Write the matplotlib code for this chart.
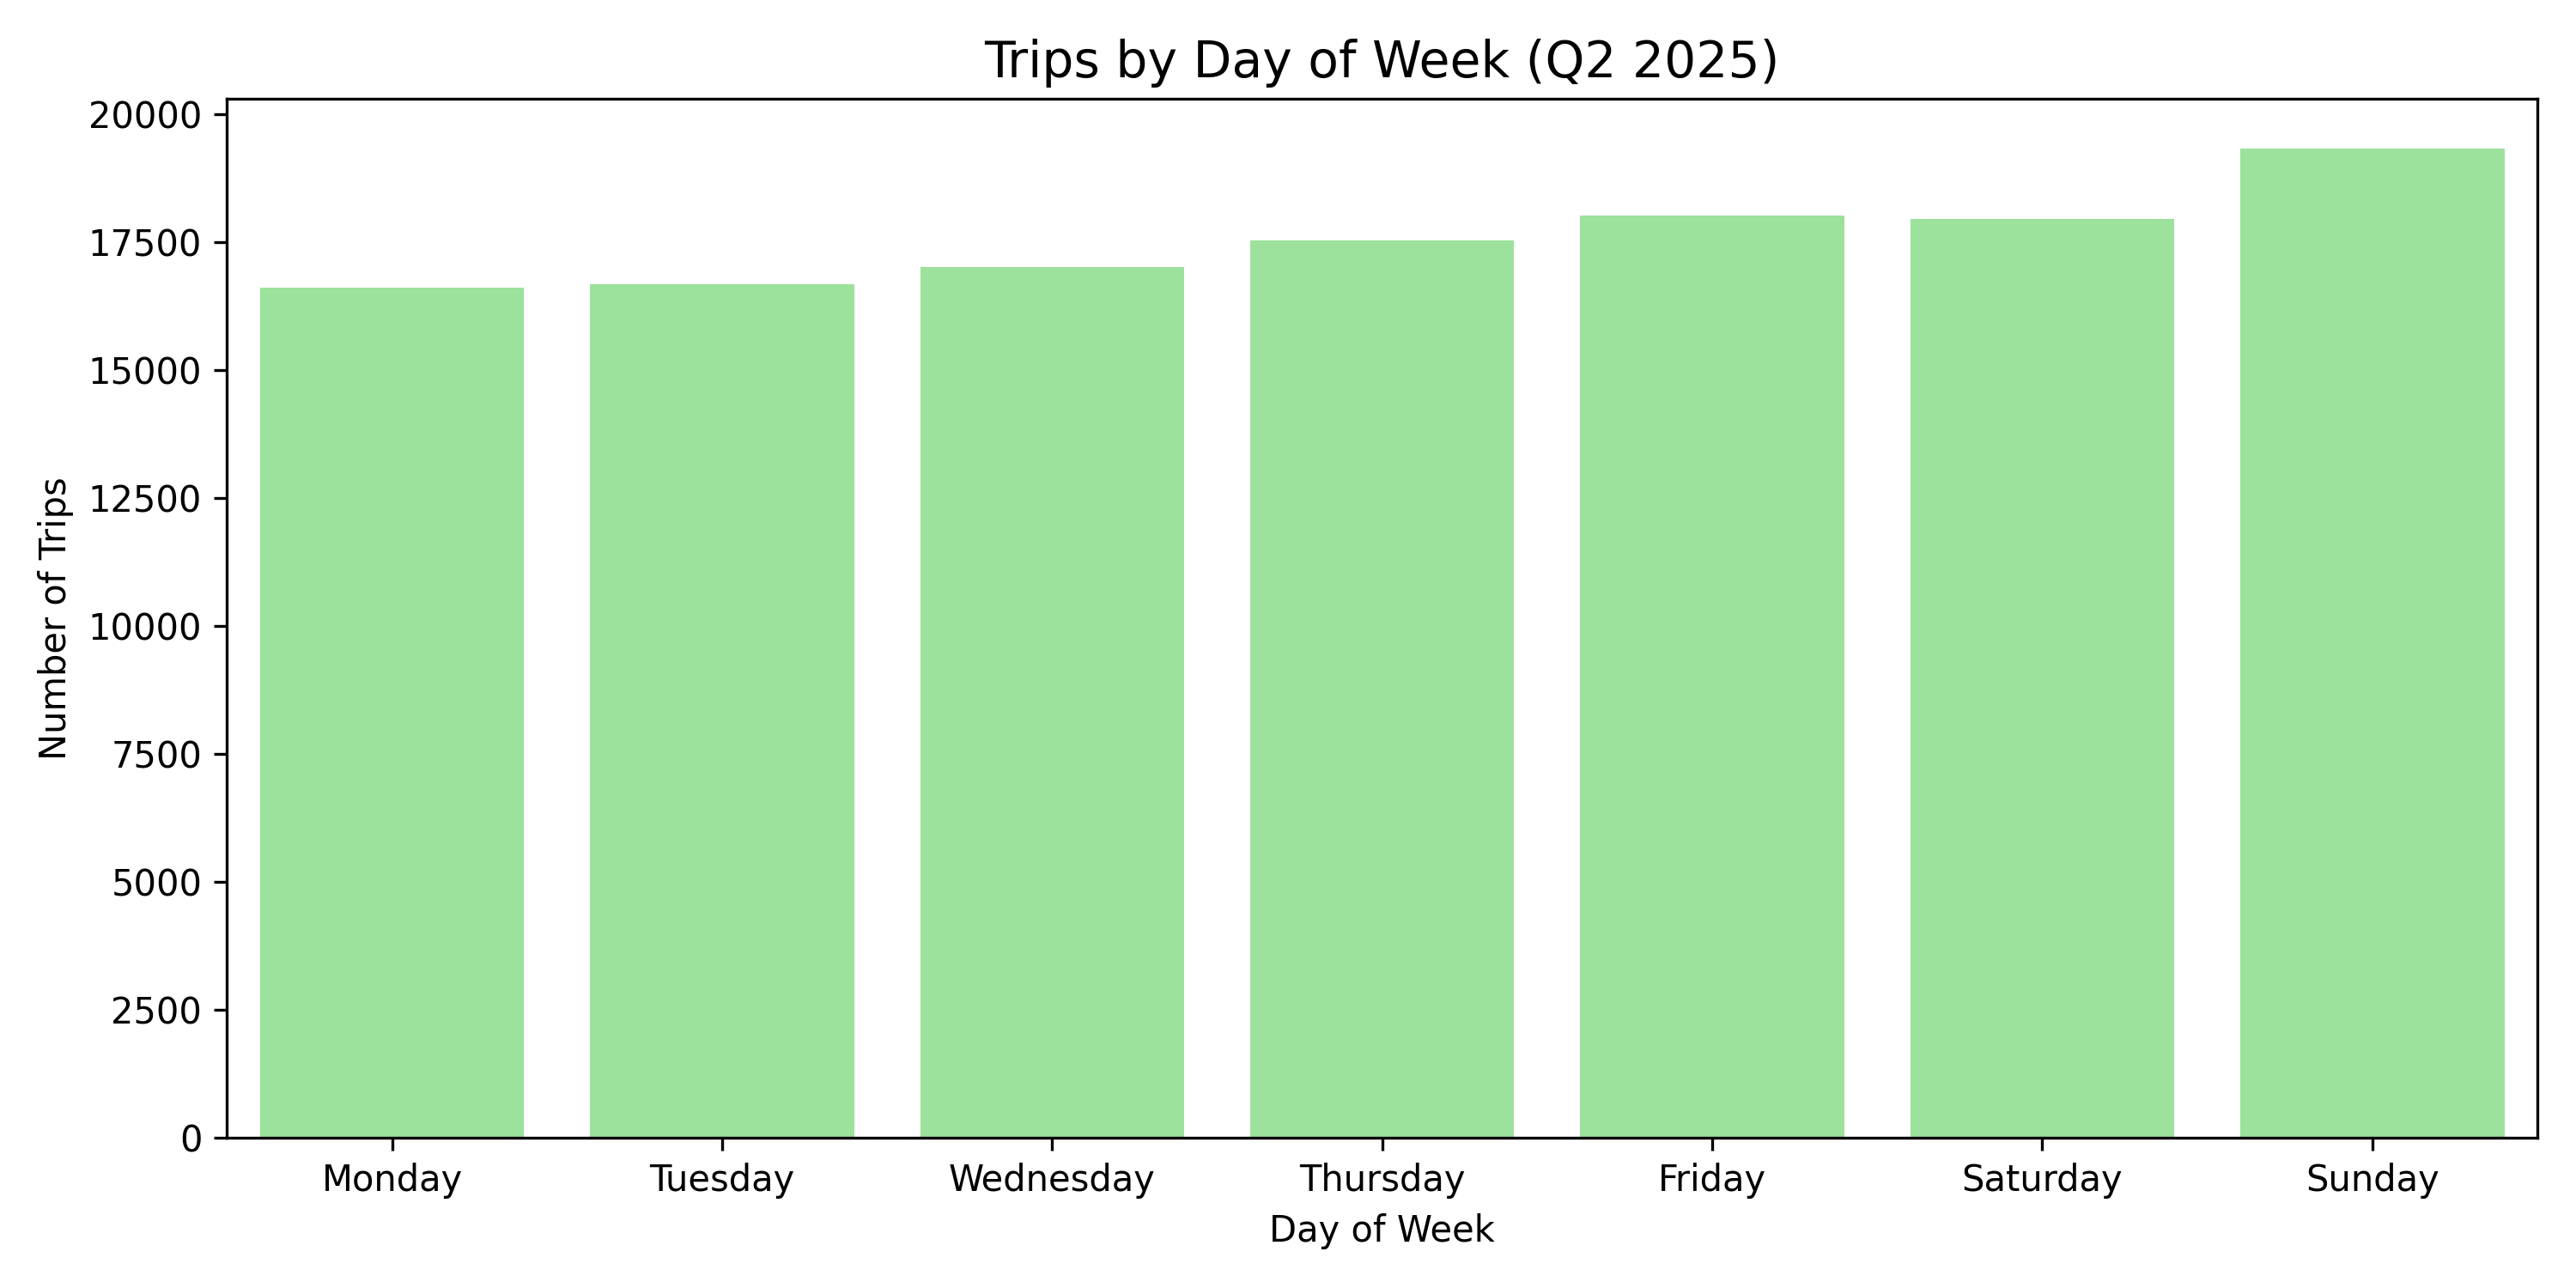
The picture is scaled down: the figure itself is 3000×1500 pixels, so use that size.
import matplotlib
matplotlib.use('Agg')
import matplotlib.pyplot as plt
import seaborn as sns
import pandas as pd

days = ['Monday', 'Tuesday', 'Wednesday', 'Thursday', 'Friday', 'Saturday', 'Sunday']
trips = [16600, 16670, 17010, 17530, 18010, 17945, 19330]

df = pd.DataFrame({'day': days, 'trips': trips})

fig, ax = plt.subplots(figsize=(10, 5))
sns.barplot(data=df, x='day', y='trips', color='lightgreen', ax=ax)
ax.set_title('Trips by Day of Week (Q2 2025)', fontsize=14)
ax.set_xlabel('Day of Week')
ax.set_ylabel('Number of Trips')
plt.tight_layout()
plt.savefig('out.png', dpi=300)
